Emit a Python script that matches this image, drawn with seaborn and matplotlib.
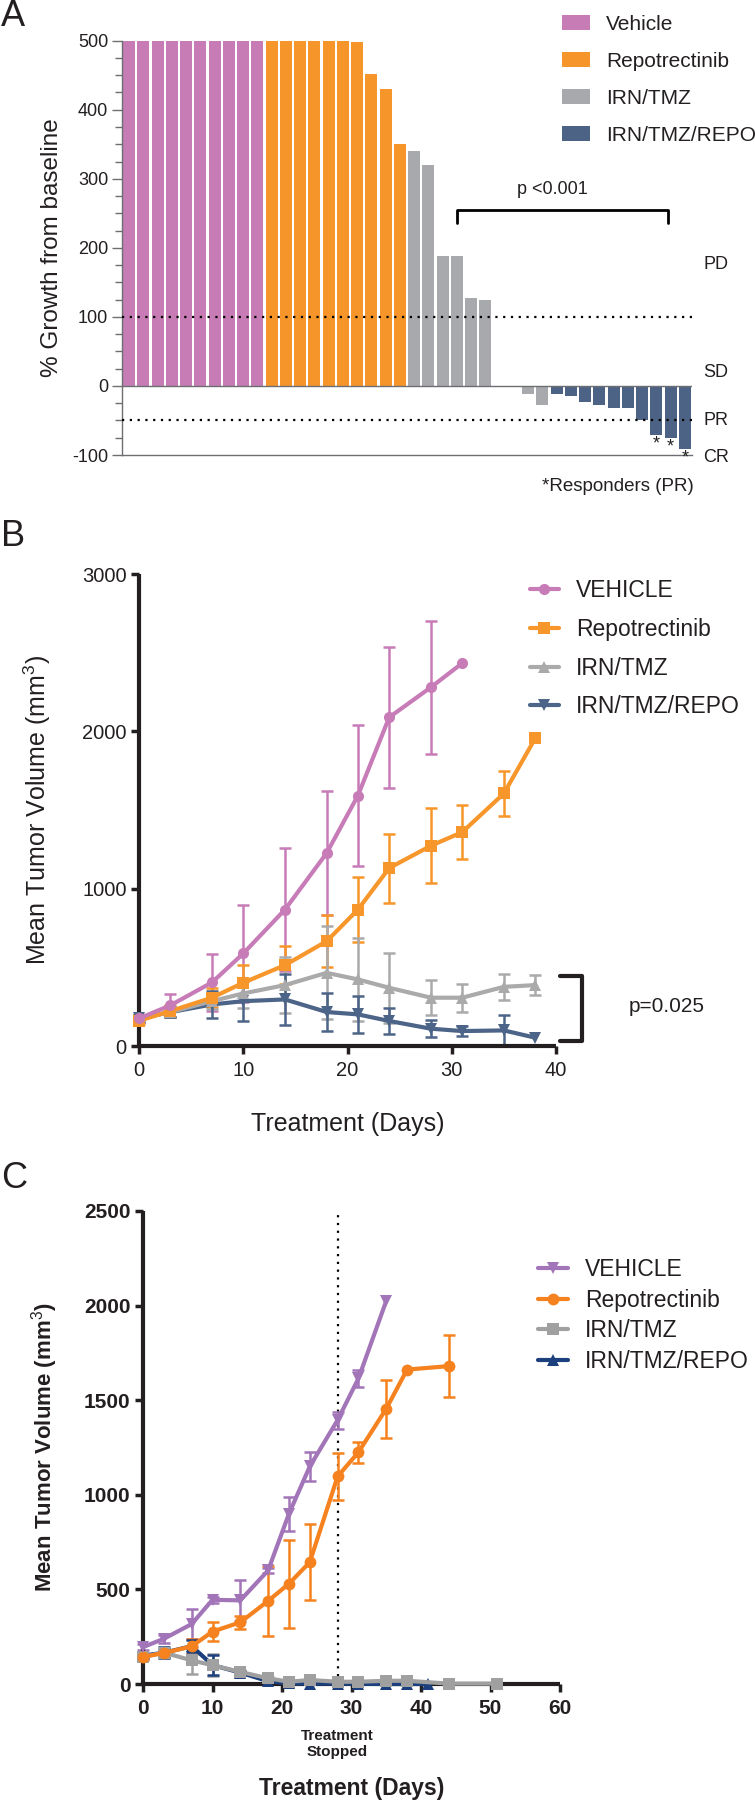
"""Waterfall + curvas de crescimento tumoral (painéis A, B e C)."""

import matplotlib.pyplot as plt
import pandas as pd
import seaborn as sns
from matplotlib.lines import Line2D
from matplotlib.patches import Patch
from matplotlib.ticker import MultipleLocator

# ---------------- Painel A: % crescimento por animal ----------------
A_GROUPS = ["Vehicle", "Repotrectinib", "IRN/TMZ", "IRN/TMZ/REPO"]
A_VEHICLE = [500, 500, 500, 500, 500, 500, 500, 500, 500, 500]
A_REPO = [500, 500, 500, 500, 500, 500, 498, 452, 430, 350]
A_IRN = [340, 320, 188, 188, 127, 125, 0, 0, -12, -27]
A_COMBO = [-11, -14, -23, -27, -32, -32, -50, -71, -75, -92]
A_RESPONDERS = [37, 38, 39]
A_COLORS = ["#C77CB5", "#F6962A", "#A7A9AC", "#4D6385"]

# ---------------- Painel B ----------------
B_GROUPS = ["VEHICLE", "Repotrectinib", "IRN/TMZ", "IRN/TMZ/REPO"]
B_DAYS_VEH = [0, 3, 7, 10, 14, 18, 21, 24, 28, 31]
B_VEH = [175, 258, 404, 588, 867, 1226, 1592, 2089, 2280, 2433]
B_VEH_ERR = [20, 75, 180, 310, 390, 395, 447, 446, 422, 0]
B_DAYS = [0, 3, 7, 10, 14, 18, 21, 24, 28, 31, 35, 38]
B_REPO = [160, 222, 307, 402, 514, 666, 867, 1131, 1273, 1359, 1605, 1955]
B_REPO_ERR = [20, 40, 60, 115, 120, 165, 207, 219, 238, 170, 140, 0]
B_IRN = [175, 215, 285, 334, 387, 465, 423, 370, 307, 307, 376, 387]
B_IRN_ERR = [20, 30, 50, 90, 178, 295, 264, 222, 111, 90, 82, 66]
B_COMBO = [175, 215, 264, 285, 296, 216, 201, 159, 110, 95, 99, 53]
B_COMBO_ERR = [20, 30, 85, 125, 162, 121, 119, 85, 53, 30, 95, 0]
B_COLORS = ["#C77CB7", "#F7962B", "#AAAAAA", "#4C6487"]
B_MARKERS = ["o", "s", "^", "v"]

# ---------------- Painel C ----------------
C_GROUPS = ["VEHICLE", "Repotrectinib", "IRN/TMZ", "IRN/TMZ/REPO"]
C_DAYS_VEH = [0, 3, 7, 10, 14, 18, 21, 24, 28, 31, 35]
C_VEH = [195, 239, 317, 445, 442, 600, 900, 1150, 1395, 1615, 2025]
C_VEH_ERR = [15, 20, 78, 15, 107, 15, 90, 75, 45, 45, 0]
C_DAYS_REPO = [0, 3, 7, 10, 14, 18, 21, 24, 28, 31, 35, 38, 44]
C_REPO = [143, 164, 199, 277, 326, 439, 530, 644, 1097, 1225, 1455, 1662, 1680]
C_REPO_ERR = [15, 20, 40, 49, 35, 183, 232, 200, 123, 55, 153, 0, 165]
C_DAYS_IRN = [0, 3, 7, 10, 14, 18, 21, 24, 28, 31, 35, 38, 44, 51]
C_IRN = [143, 166, 125, 99, 64, 30, 12, 21, 12, 12, 17, 17, 2, 2]
C_IRN_ERR = [10, 20, 70, 58, 10, 5, 5, 5, 5, 5, 5, 5, 0, 0]
C_DAYS_COMBO = [0, 3, 7, 10, 14, 18, 21, 24, 28, 31, 35, 38, 41]
C_COMBO = [150, 165, 200, 100, 60, 15, 3, 2, 2, 1, 0, 0, 0]
C_COMBO_ERR = [10, 30, 30, 53, 10, 5, 3, 3, 3, 2, 2, 2, 0]
C_COLORS = ["#A274B8", "#F5821F", "#A0A0A0", "#1C3F7D"]
C_MARKERS = ["v", "o", "s", "^"]

TXT = "#231F20"
DOTS = (0, (1, 2.5))


def painel_a(fig):
    ax = fig.add_axes([122 / 755, 1 - 455 / 1800, 570 / 755, 414.3 / 1800])
    valores = A_VEHICLE + A_REPO + A_IRN + A_COMBO
    grupos = [g for g, serie in zip(A_GROUPS, [A_VEHICLE, A_REPO, A_IRN, A_COMBO]) for _ in serie]
    df = pd.DataFrame({"pos": range(len(valores)), "growth": valores, "group": grupos})
    sns.barplot(data=df, x="pos", y="growth", hue="group", hue_order=A_GROUPS,
                palette=A_COLORS, dodge=False, width=0.84, saturation=1,
                linewidth=0, legend=False, ax=ax)
    ax.set_xlim(-0.5, len(valores) - 0.5)
    ax.set_ylim(-100, 500)
    ax.yaxis.set_major_locator(MultipleLocator(100))
    ax.yaxis.set_minor_locator(MultipleLocator(25))
    ax.tick_params(axis="y", which="major", length=7, width=1, color="#6D6E71",
                   labelsize=13, labelcolor=TXT, pad=3)
    ax.tick_params(axis="y", which="minor", length=5, width=1, color="#6D6E71")
    ax.set_xticks([])
    ax.set_xlabel("")
    ax.set_ylabel("% Growth from baseline", fontsize=17.5, color=TXT)
    ax.yaxis.set_label_coords(-0.104, 0.5)
    for s in ["top", "right"]:
        ax.spines[s].set_visible(False)
    for s in ["left", "bottom"]:
        ax.spines[s].set_color("#6D6E71")
        ax.spines[s].set_linewidth(1)
    ax.axhline(0, color="#6D6E71", lw=1, zorder=3)
    ax.axhline(100, color="black", lw=1.6, ls=DOTS, zorder=4)
    ax.axhline(-50, color="black", lw=1.6, ls=DOTS, zorder=4)

    for i in A_RESPONDERS:
        ax.text(i, valores[i] - 13, "*", ha="center", va="center", fontsize=13, color=TXT)

    ax.plot([23, 23, 37.8, 37.8], [236, 255, 255, 236], color="black", lw=2, clip_on=False)
    ax.text(29.7, 285, "p <0.001", ha="center", va="center", fontsize=13, color=TXT)
    for lab, y in [("PD", 176), ("SD", 20), ("PR", -50), ("CR", -103)]:
        ax.text(40.3, y, lab, ha="left", va="center", fontsize=13, color=TXT, clip_on=False)
    ax.text(34.3, -145, "*Responders (PR)", ha="center", va="center", fontsize=13.5,
            color=TXT, clip_on=False)

    handles = [Patch(facecolor=c, edgecolor="none") for c in A_COLORS]
    ax.legend(handles, A_GROUPS, loc="upper left", bbox_to_anchor=(562 / 755, 1 - 15 / 1800),
              bbox_transform=fig.transFigure, frameon=False, fontsize=15, handlelength=1.35,
              handleheight=0.7, handletextpad=0.75, labelspacing=0.86, borderpad=0,
              borderaxespad=0, labelcolor=TXT)


def curvas(ax, series, nomes, cores, marcadores, lw, ms, ew, cap):
    linhas = []
    for nome, (dias, vals, _) in zip(nomes, series):
        linhas.append(pd.DataFrame({"day": dias, "volume": vals, "group": nome}))
    df = pd.concat(linhas, ignore_index=True)
    ordem = list(reversed(nomes))
    for nome, cor, (dias, vals, errs) in zip(nomes, cores, series):
        d = [x for x, e in zip(dias, errs) if e > 0]
        v = [y for y, e in zip(vals, errs) if e > 0]
        e = [e for e in errs if e > 0]
        ax.errorbar(d, v, yerr=e, fmt="none", ecolor=cor, elinewidth=ew, capsize=cap,
                    capthick=ew, clip_on=False, zorder=2)
    sns.lineplot(data=df, x="day", y="volume", hue="group", style="group", hue_order=ordem,
                 style_order=ordem, palette=dict(zip(nomes, cores)),
                 markers=dict(zip(nomes, marcadores)), dashes=False, linewidth=lw,
                 markersize=ms, markeredgewidth=0, errorbar=None, legend=False,
                 sort=False, ax=ax, clip_on=False, zorder=3)


def eixos_grossos(ax, lw=3):
    for s in ["top", "right"]:
        ax.spines[s].set_visible(False)
    for s in ["left", "bottom"]:
        ax.spines[s].set_linewidth(lw)
        ax.spines[s].set_color(TXT)
        ax.spines[s].set_capstyle("butt")


def painel_b(fig):
    ax = fig.add_axes([139 / 755, 1 - 1046 / 1800, 417 / 755, 472 / 1800])
    series = [(B_DAYS_VEH, B_VEH, B_VEH_ERR), (B_DAYS, B_REPO, B_REPO_ERR),
              (B_DAYS, B_IRN, B_IRN_ERR), (B_DAYS, B_COMBO, B_COMBO_ERR)]
    curvas(ax, series, B_GROUPS, B_COLORS, B_MARKERS, lw=3, ms=8, ew=1.8, cap=4.5)
    ax.set_xlim(0, 40)
    ax.set_ylim(0, 3000)
    ax.set_xticks([0, 10, 20, 30, 40])
    ax.set_yticks([0, 1000, 2000, 3000])
    eixos_grossos(ax)
    ax.tick_params(length=6, width=2.5, color=TXT, labelsize=14.5, labelcolor=TXT)
    ax.tick_params(axis="y", pad=3)
    ax.tick_params(axis="x", pad=5)
    ax.set_xlabel("Treatment (Days)", fontsize=18, color=TXT)
    ax.xaxis.set_label_coords(0.5, -0.14)
    ax.set_ylabel("Mean Tumor Volume (mm$^3$)", fontsize=18, color=TXT)
    ax.yaxis.set_label_coords(-0.206, 0.5)

    ax.plot([40.4, 42.5, 42.5, 40.4], [445, 445, 32, 32], color=TXT, lw=3, clip_on=False)
    ax.text(47.0, 254, "p=0.025", ha="left", va="center", fontsize=15, color=TXT, clip_on=False)

    handles = [Line2D([], [], color=c, marker=m, lw=3, markersize=8, markeredgewidth=0)
               for c, m in zip(B_COLORS, B_MARKERS)]
    ax.legend(handles, B_GROUPS, loc="upper left", bbox_to_anchor=(530 / 755, 1 - 579 / 1800),
              bbox_transform=fig.transFigure, frameon=False, fontsize=16.5, handlelength=1.25,
              handletextpad=0.75, labelspacing=0.69, borderpad=0, borderaxespad=0,
              labelcolor=TXT)


def painel_c(fig):
    ax = fig.add_axes([143 / 755, 1 - 1684 / 1800, 417 / 755, 473 / 1800])
    series = [(C_DAYS_VEH, C_VEH, C_VEH_ERR), (C_DAYS_REPO, C_REPO, C_REPO_ERR),
              (C_DAYS_IRN, C_IRN, C_IRN_ERR), (C_DAYS_COMBO, C_COMBO, C_COMBO_ERR)]
    curvas(ax, series, C_GROUPS, C_COLORS, C_MARKERS, lw=3, ms=8.5, ew=1.8, cap=4.5)
    ax.axvline(28, color="black", lw=1.6, ls=DOTS, zorder=1)
    ax.set_xlim(0, 60)
    ax.set_ylim(0, 2500)
    ax.set_xticks([0, 10, 20, 30, 40, 50, 60])
    ax.set_yticks([0, 500, 1000, 1500, 2000, 2500])
    eixos_grossos(ax)
    ax.tick_params(length=6, width=2.5, color=TXT, labelsize=15, labelcolor=TXT)
    ax.tick_params(axis="y", pad=3)
    ax.tick_params(axis="x", pad=5)
    for t in ax.get_xticklabels() + ax.get_yticklabels():
        t.set_fontweight("bold")
    ax.text(28, -317, "Treatment\nStopped", ha="center", va="center", fontsize=11,
            fontweight="bold", color=TXT, clip_on=False, linespacing=1.15)
    ax.set_xlabel("Treatment (Days)", fontsize=16.5, fontweight="bold", color=TXT)
    ax.xaxis.set_label_coords(0.5, -0.197)
    ax.set_ylabel("Mean Tumor Volume (mm$^3$)", fontsize=16, fontweight="bold", color=TXT)
    ax.yaxis.set_label_coords(-0.199, 0.5)

    handles = [Line2D([], [], color=c, marker=m, lw=3, markersize=8.5, markeredgewidth=0)
               for c, m in zip(C_COLORS, C_MARKERS)]
    ax.legend(handles, C_GROUPS, loc="upper left", bbox_to_anchor=(538 / 755, 1 - 1258 / 1800),
              bbox_transform=fig.transFigure, frameon=False, fontsize=16.5, handlelength=1.3,
              handletextpad=0.75, labelspacing=0.33, borderpad=0, borderaxespad=0,
              labelcolor=TXT)


def main():
    sns.set_theme(style="ticks")
    plt.rcParams["font.family"] = ["Liberation Sans", "DejaVu Sans"]
    plt.rcParams["axes.unicode_minus"] = False
    plt.rcParams["mathtext.fontset"] = "custom"
    plt.rcParams["mathtext.rm"] = "Liberation Sans"
    plt.rcParams["mathtext.bf"] = "Liberation Sans:bold"

    fig = plt.figure(figsize=(7.55, 18), dpi=100)
    painel_a(fig)
    painel_b(fig)
    painel_c(fig)

    for letra, y in [("A", 17), ("B", 537), ("C", 1178)]:
        fig.text(1 / 755, 1 - y / 1800, letra, fontsize=26, ha="left", va="center", color=TXT)

    fig.savefig("out.png", dpi=100)
    plt.close(fig)


if __name__ == "__main__":
    main()
